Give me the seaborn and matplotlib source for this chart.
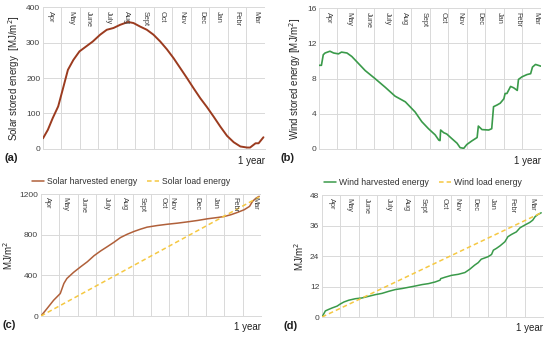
import pandas as pd
import matplotlib.pyplot as plt
import seaborn as sns
import numpy as np

# --- data (x in days from 1 April) ---
months = ['Apr', 'May', 'June', 'July', 'Aug', 'Sept', 'Oct', 'Nov', 'Dec', 'Jan', 'Febr', 'Mar']

# month label positions (day) as placed in each panel
label_day_a = [13, 46, 75, 107, 138, 168, 196, 229, 262, 289, 320, 350]
label_day_b = [16, 49, 81, 112, 141, 173, 204, 232, 264, 296, 327, 357]
label_day_c = [10, 40, 71, 108, 139, 168, 202, 217, 259, 290, 322, 355]
label_day_d = [16, 45, 73, 109, 139, 167, 202, 223, 253, 282, 314, 347]

solar_stored_day = [0, 8, 16, 25, 33, 41, 50, 60, 71, 82, 94, 105, 116, 127, 140, 149, 160,
                    171, 182, 193, 204, 215, 226, 237, 248, 259, 270, 281, 292, 303, 314,
                    325, 336, 341, 350, 355, 363]
solar_stored = [30, 54, 87, 120, 171, 223, 251, 275, 289, 303, 322, 336, 341, 350, 358, 355, 345,
                336, 322, 303, 281, 256, 228, 200, 171, 143, 118, 91, 63, 37, 19,
                7, 4, 4, 16, 16, 33]

wind_stored_day = [0, 4, 7, 10, 18, 24, 32, 37, 46, 54, 65, 76, 92, 109, 125, 142, 158, 169,
                   180, 191, 197, 199, 200, 205, 210, 218, 227, 232, 238, 243, 251, 260,
                   262, 268, 279, 284, 287, 293, 298, 304, 306, 309, 315, 320, 326, 328,
                   334, 342, 348, 351, 356, 365]
wind_stored = [9.5, 9.5, 10.7, 10.9, 11.1, 10.9, 10.8, 11.0, 10.9, 10.5, 9.7, 8.9, 8.0, 7.0, 6.0,
               5.35, 4.2, 3.1, 2.3, 1.6, 1.0, 0.95, 2.15, 1.85, 1.7, 1.2, 0.65, 0.15, 0.07,
               0.5, 0.9, 1.3, 2.6, 2.2, 2.15, 2.3, 4.8, 5.0, 5.2, 5.7, 6.3, 6.3, 7.1,
               6.95, 6.65, 7.9, 8.2, 8.45, 8.55, 9.3, 9.6, 9.4]

solar_harv_day = [0, 10, 21, 32, 38, 43, 54, 66, 77, 88, 99, 110, 121, 132, 143, 154, 165,
                  176, 193, 210, 226, 243, 260, 276, 293, 304, 315, 326, 337, 346, 351,
                  357, 362]
solar_harv = [0, 73, 155, 221, 320, 369, 429, 485, 534, 593, 640, 682, 725, 772, 804, 831, 854,
              874, 890, 903, 913, 926, 940, 956, 969, 979, 996, 1019, 1045, 1078, 1128,
              1160, 1177]
solar_load_day = [0, 362]
solar_load = [0, 1170]

wind_harv_day = [0, 3, 5.5, 11, 16.5, 25, 30, 36, 44, 55, 66, 77, 88, 99, 110, 121, 132, 143,
                 154, 165, 176, 187, 195, 196, 203, 214, 225, 236, 244, 252, 258, 263, 274,
                 280, 283, 288, 294, 302, 307, 313, 321, 327, 335, 343, 348, 352, 357, 362]
wind_harv = [0, 1.3, 2.4, 3.0, 3.55, 4.3, 5.1, 5.9, 6.6, 7.2, 7.5, 8.15, 8.8, 9.3, 10.1, 10.8,
             11.2, 11.7, 12.2, 12.75, 13.15, 13.8, 14.5, 15.1, 15.65, 16.4, 16.8, 17.5, 18.8,
             20.4, 21.4, 22.75, 23.7, 24.6, 26.3, 27.0, 28.0, 29.6, 31.6, 32.5, 33.5, 35.1,
             36.2, 37.2, 38.1, 39.5, 40.4, 41.0]
wind_load_day = [0, 362]
wind_load = [0, 41.0]

sns.set_theme(style="whitegrid")
plt.rcParams['font.family'] = ['Liberation Sans', 'DejaVu Sans']

solar_col = '#9b3b1f'
solar_col_c = '#b0603a'
wind_col = '#3a9a4a'
load_col = '#f5c842'
grid_col = '#d9d9d9'

fig = plt.figure(figsize=(5.5, 3.37), dpi=100)
ax_a = fig.add_axes([0.0782, 0.558, 0.403, 0.421])
ax_b = fig.add_axes([0.580, 0.558, 0.4036, 0.418])
ax_c = fig.add_axes([0.0745, 0.0623, 0.400, 0.362])
ax_d = fig.add_axes([0.5855, 0.0593, 0.4018, 0.362])

month_bounds = [365 / 12 * k for k in range(13)]


def style_axis(ax, yticks, label_days, ylabel, tag):
    ax.set_xlim(0, 365)
    ax.set_ylim(yticks[0], yticks[-1])
    ax.set_yticks(yticks)
    ax.set_xticks(month_bounds)
    ax.set_xticklabels([])
    ax.grid(True, color=grid_col, linewidth=0.7)
    ax.tick_params(axis='y', labelsize=6, colors='#404040', pad=2, length=0)
    ax.tick_params(axis='x', length=0)
    for s in ['top', 'right', 'left']:
        ax.spines[s].set_visible(False)
    ax.spines['bottom'].set_color(grid_col)
    ax.spines['bottom'].set_linewidth(0.7)
    for d, m in zip(label_days, months):
        ax.text(d, 0.975, m, transform=ax.get_xaxis_transform(), rotation=-90,
                ha='center', va='top', fontsize=5.3, color='#404040')
    ax.set_xlabel('')
    ax.set_ylabel(ylabel, fontsize=7, labelpad=3)
    ax.text(1.0, -0.05, '1 year', transform=ax.transAxes, ha='right', va='top',
            fontsize=7, color='#202020')
    ax.text(-0.175, -0.03, tag, transform=ax.transAxes, ha='left', va='top',
            fontsize=8, fontweight='bold', color='#202020')


def style_legend(ax, x_center):
    ax.legend(loc='lower center', bbox_to_anchor=(x_center, 1.04), ncol=2, frameon=False,
              fontsize=6.2, handlelength=1.4, handletextpad=0.3, columnspacing=1.2,
              borderaxespad=0, labelcolor='#303030')


# --- (a) solar stored ---
sns.lineplot(x=solar_stored_day, y=solar_stored, ax=ax_a, color=solar_col, linewidth=1.4)
style_axis(ax_a, [0, 100, 200, 300, 400], label_day_a, 'Solar stored energy  [MJ/m$^2$]', '(a)')

# --- (b) wind stored ---
sns.lineplot(x=wind_stored_day, y=wind_stored, ax=ax_b, color=wind_col, linewidth=1.2)
style_axis(ax_b, [0, 4, 8, 12, 16], label_day_b, 'Wind stored energy [MJ/m$^2$]', '(b)')

# --- (c) solar harvested vs load ---
df_c = pd.concat([
    pd.DataFrame({'day': solar_harv_day, 'val': solar_harv, 'series': 'Solar harvested energy'}),
    pd.DataFrame({'day': solar_load_day, 'val': solar_load, 'series': 'Solar load energy'}),
])
sns.lineplot(data=df_c, x='day', y='val', hue='series', style='series', ax=ax_c,
             palette=[solar_col_c, load_col], dashes=[(None, None), (3, 2)], linewidth=1.1)
style_axis(ax_c, [0, 400, 800, 1200], label_day_c, 'MJ/m$^2$', '(c)')
style_legend(ax_c, 0.41)

# --- (d) wind harvested vs load ---
df_d = pd.concat([
    pd.DataFrame({'day': wind_harv_day, 'val': wind_harv, 'series': 'Wind harvested energy'}),
    pd.DataFrame({'day': wind_load_day, 'val': wind_load, 'series': 'Wind load energy'}),
])
sns.lineplot(data=df_d, x='day', y='val', hue='series', style='series', ax=ax_d,
             palette=[wind_col, load_col], dashes=[(None, None), (3, 2)], linewidth=1.1)
style_axis(ax_d, [0, 12, 24, 36, 48], label_day_d, 'MJ/m$^2$', '(d)')
style_legend(ax_d, 0.457)

fig.savefig('out.png', dpi=100)
